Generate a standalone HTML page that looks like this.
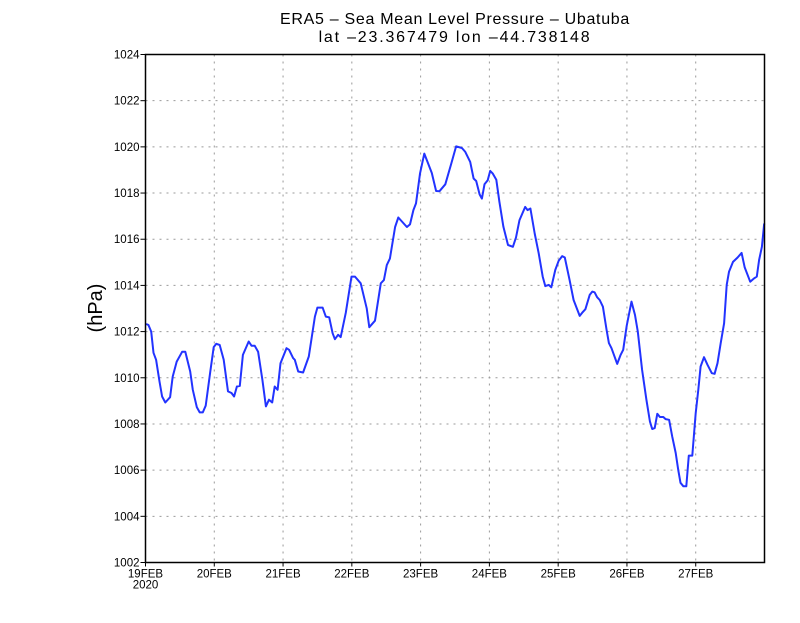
<!DOCTYPE html>
<html><head><meta charset="utf-8"><style>
body{margin:0;background:#fff}
svg text{font-family:"Liberation Sans",sans-serif}
</style></head><body>
<svg id="c" width="800" height="618" xmlns="http://www.w3.org/2000/svg">
<rect width="800" height="618" fill="#fff"/>
<text x="455" y="24" font-size="16" letter-spacing="0.7" text-anchor="middle">ERA5 – Sea Mean Level Pressure – Ubatuba</text>
<text x="455" y="42" font-size="16" letter-spacing="1.8" text-anchor="middle">lat –23.367479 lon –44.738148</text>
<text transform="translate(102,308) rotate(-90)" font-size="20" text-anchor="middle">(hPa)</text>
<g id="grid"></g>
<g id="axes"></g>
<path id="line" fill="none" stroke="#2233ff" stroke-width="2" stroke-linejoin="round"/>
<rect x="145.5" y="54.5" width="619" height="508" fill="none" stroke="#000" stroke-width="1.5"/>
</svg>
<script>
const hours=[0.2,1.0,2.0,2.8,3.7,4.9,5.8,6.9,8.6,9.5,10.9,12.8,13.9,15.6,16.5,17.9,18.9,20.0,21.0,22.6,23.8,24.7,25.9,27.3,28.8,30.0,30.9,31.9,32.9,34.0,36.0,37.0,38.1,39.3,40.8,42.0,43.1,44.2,45.1,46.1,47.1,49.2,50.1,51.5,52.1,53.3,55.0,57.0,59.1,60.0,61.8,62.9,64.1,65.3,66.1,67.2,68.1,69.9,71.9,73.1,75.1,77.2,78.1,80.1,82.1,83.2,84.2,85.3,87.1,88.2,91.2,92.3,93.5,94.4,95.8,97.3,99.9,101.4,102.6,104.6,106.7,108.4,110.4,111.6,113.3,114.5,115.4,116.6,117.4,118.3,119.4,120.3,121.2,122.4,123.5,124.9,126.5,128.2,129.3,130.5,132.5,133.3,134.3,135.8,137.2,138.6,139.5,140.7,141.6,143.0,144.2,145.4,146.3,148.0,149.4,151.5,152.4,153.5,155.0,155.9,156.7,157.6,158.5,159.6,160.9,161.7,162.6,164.6,165.8,166.7,167.9,169.6,170.8,171.8,173.3,174.8,176.0,176.8,177.7,178.6,179.5,180.7,181.5,182.7,183.8,185.0,185.9,186.7,187.7,188.7,189.6,190.8,192.0,192.9,193.7,194.9,196.1,197.6,198.6,199.6,200.7,201.9,202.8,203.6,205.0,206.6,208.0,209.1,211.0,212.4,213.3,214.1,215.1,215.9];
const pressure=[1012.33,1012.29,1012.0,1011.08,1010.78,1009.84,1009.19,1008.93,1009.16,1010.05,1010.70,1011.13,1011.13,1010.27,1009.48,1008.73,1008.50,1008.50,1008.79,1010.27,1011.33,1011.47,1011.42,1010.78,1009.41,1009.34,1009.19,1009.62,1009.65,1010.99,1011.57,1011.39,1011.39,1011.13,1009.91,1008.76,1009.05,1008.93,1009.62,1009.48,1010.63,1011.28,1011.21,1010.85,1010.78,1010.27,1010.23,1010.92,1012.65,1013.04,1013.04,1012.65,1012.62,1011.93,1011.67,1011.86,1011.76,1012.82,1014.38,1014.38,1014.09,1013.01,1012.19,1012.47,1014.09,1014.23,1014.88,1015.16,1016.53,1016.94,1016.53,1016.64,1017.26,1017.55,1018.84,1019.71,1018.87,1018.09,1018.08,1018.38,1019.28,1020.02,1019.95,1019.78,1019.35,1018.63,1018.52,1017.94,1017.76,1018.38,1018.55,1018.96,1018.84,1018.58,1017.62,1016.54,1015.75,1015.67,1016.08,1016.83,1017.40,1017.26,1017.33,1016.25,1015.39,1014.38,1013.97,1014.02,1013.92,1014.67,1015.07,1015.27,1015.21,1014.23,1013.37,1012.68,1012.82,1012.97,1013.59,1013.73,1013.70,1013.49,1013.37,1013.08,1012.07,1011.50,1011.28,1010.60,1010.99,1011.21,1012.25,1013.30,1012.72,1012.00,1010.34,1009.05,1008.11,1007.78,1007.82,1008.44,1008.30,1008.30,1008.21,1008.18,1007.46,1006.74,1006.02,1005.45,1005.30,1005.30,1006.63,1006.63,1008.47,1009.48,1010.49,1010.89,1010.56,1010.20,1010.17,1010.63,1011.50,1012.36,1014.02,1014.59,1015.02,1015.21,1015.41,1014.78,1014.16,1014.31,1014.38,1015.10,1015.67,1016.68];
const yTicks=[1002,1004,1006,1008,1010,1012,1014,1016,1018,1020,1022,1024];
const xTickLabels=["19FEB","20FEB","21FEB","22FEB","23FEB","24FEB","25FEB","26FEB","27FEB"];
const X0=145.5,X1=764.5,Y0=562.5,Y1=54.5,HMAX=216,PMIN=1002,PMAX=1024;
function xs(h){return X0+(h/HMAX)*(X1-X0);}
function ys(p){return Y0-(p-PMIN)/(PMAX-PMIN)*(Y0-Y1);}
const NS="http://www.w3.org/2000/svg";
const grid=document.getElementById('grid'),axes=document.getElementById('axes');
function mk(tag,at,parent){const e=document.createElementNS(NS,tag);for(const k in at)e.setAttribute(k,at[k]);parent.appendChild(e);return e;}
yTicks.forEach(v=>{
  const y=ys(v);
  if(v>PMIN&&v<PMAX){const g=mk('line',{x1:X0,x2:X1,y1:y,y2:y,stroke:'#999','stroke-dasharray':'2,5'},grid);
  
  }
  const t=mk('line',{x1:X0-5,x2:X0,y1:y,y2:y,stroke:'#000'},axes);
  
  
  const l=mk('text',{x:X0-6,y:y+4,'font-size':'11.5','text-anchor':'end'},axes);
  
  
  l.textContent=v;
});
xTickLabels.forEach((s,i)=>{
  const x=xs(i*24);
  if(i>0){const g=mk('line',{x1:x,x2:x,y1:Y1,y2:Y0,stroke:'#999','stroke-dasharray':'2,5'},grid);
  
  }
  const t=mk('line',{x1:x,x2:x,y1:Y0,y2:Y0+4,stroke:'#000'},axes);
  
  
  const l=mk('text',{x:x,y:Y0+15,'font-size':'11.5','text-anchor':'middle'},axes);
  
  
  l.textContent=s;
});
const yr=mk('text',{x:xs(0),y:Y0+26,'font-size':'11.5','text-anchor':'middle'},axes);


yr.textContent='2020';
document.getElementById('line').setAttribute('d',hours.map((h,i)=>(i?'L':'M')+xs(h).toFixed(1)+','+ys(pressure[i]).toFixed(1)).join(''));
</script>
</body></html>
